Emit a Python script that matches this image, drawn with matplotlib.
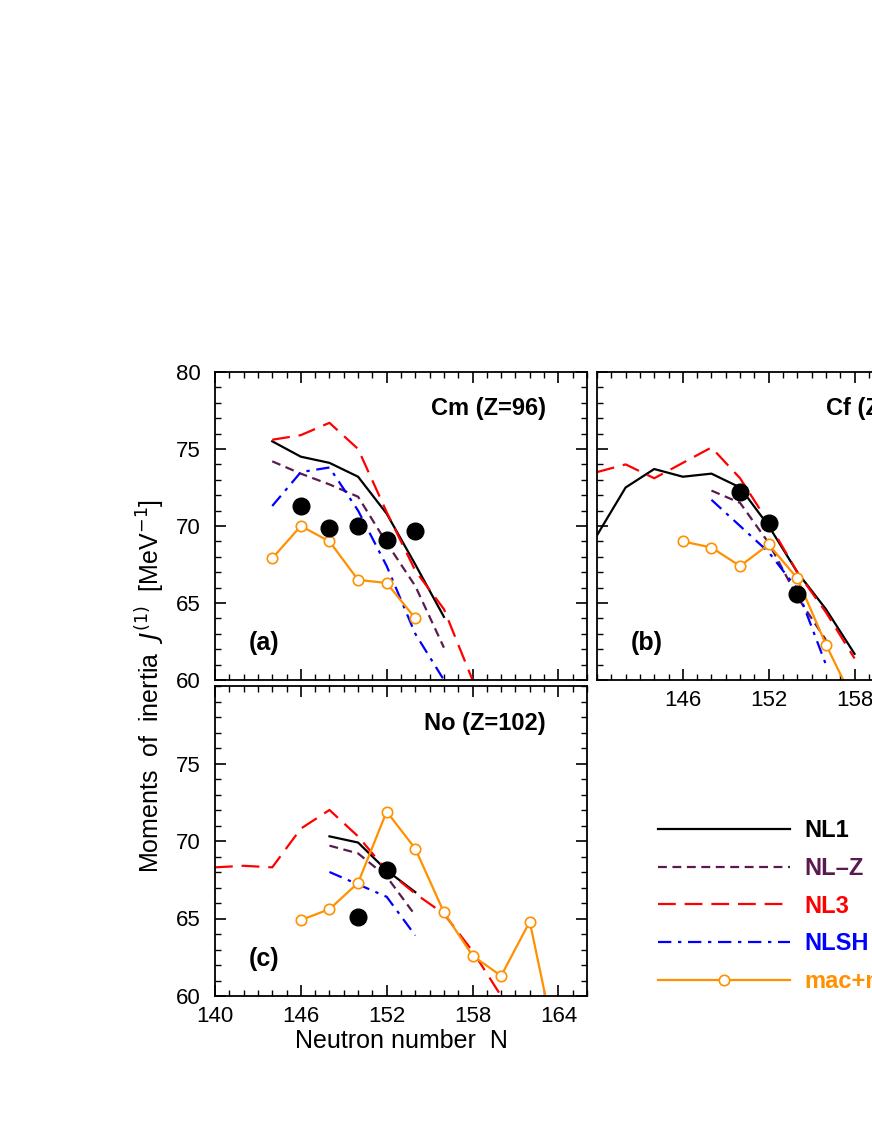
import matplotlib
matplotlib.use("Agg")
import matplotlib.pyplot as plt
from matplotlib.ticker import MultipleLocator

# ---- data ----
# Panel (a) Cm
a_nl1_N = [144,146,148,150,152,154,156]; a_nl1 = [75.5,74.5,74.1,73.2,70.8,67.5,64.1]
a_nlz_N = [144,146,148,150,152,154,156]; a_nlz = [74.2,73.4,72.7,71.9,68.9,66.1,62.1]
a_nl3_N = [144,146,148,150,152,154,156,158]; a_nl3 = [75.6,75.9,76.7,75.0,70.9,67.1,64.6,60.0]
a_nlsh_N = [144,146,148,150,152,154,156]; a_nlsh = [71.3,73.5,73.8,71.0,67.4,63.0,60.0]
a_exp_N = [146,148,150,152,154]; a_exp = [71.3,69.9,70.0,69.1,69.7]
a_mac_N = [144,146,148,150,152,154]; a_mac = [67.9,70.0,69.0,66.5,66.3,64.0]
# Panel (b) Cf
b_nl1_N = [140,142,144,146,148,150,152,154,156,158]; b_nl1 = [69.4,72.5,73.7,73.2,73.4,72.5,70.0,67.0,64.6,61.7]
b_nlz_N = [148,150,152,154,156]; b_nlz = [72.3,71.5,68.9,65.4,62.6]
b_nl3_N = [140,142,144,146,148,150,152,154,156,158]; b_nl3 = [73.5,74.0,73.1,74.1,75.1,73.1,70.2,67.0,64.4,61.4]
b_nlsh_N = [148,150,152,154,156]; b_nlsh = [71.7,70.0,68.3,65.9,61.0]
b_exp_N = [150,152,154]; b_exp = [72.2,70.2,65.6]
b_mac_N = [146,148,150,152,154,156,158]; b_mac = [69.0,68.6,67.4,68.8,66.6,62.3,58.5]
# Panel (c) No
c_nl1_N = [148,150,152,154]; c_nl1 = [70.3,69.9,68.1,66.7]
c_nlz_N = [148,150,152,154]; c_nlz = [69.7,69.2,67.7,65.2]
c_nl3_N = [140,142,144,146,148,150,152,154,156,158,160]; c_nl3 = [68.3,68.4,68.3,70.8,72.0,70.3,68.1,66.6,65.3,62.9,60.0]
c_nlsh_N = [148,150,152,154]; c_nlsh = [68.0,67.2,66.4,63.9]
c_exp_N = [150,152]; c_exp = [65.1,68.1]
c_mac_N = [146,148,150,152,154,156,158,160,162,164]; c_mac = [64.9,65.6,67.3,71.9,69.5,65.4,62.6,61.3,64.8,56.0]

panels = {
    "a": (a_nl1_N,a_nl1,a_nlz_N,a_nlz,a_nl3_N,a_nl3,a_nlsh_N,a_nlsh,a_exp_N,a_exp,a_mac_N,a_mac,"Cm (Z=96)"),
    "b": (b_nl1_N,b_nl1,b_nlz_N,b_nlz,b_nl3_N,b_nl3,b_nlsh_N,b_nlsh,b_exp_N,b_exp,b_mac_N,b_mac,"Cf (Z=98)"),
    "c": (c_nl1_N,c_nl1,c_nlz_N,c_nlz,c_nl3_N,c_nl3,c_nlsh_N,c_nlsh,c_exp_N,c_exp,c_mac_N,c_mac,"No (Z=102)"),
}
labels = ["NL1","NL\u2013Z","NL3","NLSH","mac+mic"]
colors = ["black","#5b1a4f","red","blue","#ff9000"]
styles = ["-",(0,(4,2.5)),(0,(8,4)),(0,(6,3,1.5,3)),"-"]

plt.rcParams["font.family"] = "Liberation Sans"
fig = plt.figure(figsize=(8.72,11.28), dpi=100)
W, H = 872, 1128
def pos(l,t,w,h): return [l/W, 1-(t+h)/H, w/W, h/H]
axes = {
    "a": fig.add_axes(pos(215,372,372,308)),
    "b": fig.add_axes(pos(597,372,372,308)),
    "c": fig.add_axes(pos(215,686,372,310)),
}
handles = None
for k, ax in axes.items():
    d = panels[k]
    hs = []
    for i in range(4):
        h, = ax.plot(d[2*i], d[2*i+1], color=colors[i], ls=styles[i], lw=1.6)
        hs.append(h)
    ax.plot(d[8], d[9], 'o', color='black', ms=12, zorder=5)
    h, = ax.plot(d[10], d[11], '-o', color=colors[4], mfc='white', mec=colors[4], ms=7.5, lw=1.6, mew=1.2)
    hs.append(h)
    handles = hs
    ax.set_xlim(140,166); ax.set_ylim(60,80)
    ax.xaxis.set_major_locator(MultipleLocator(6)); ax.xaxis.set_minor_locator(MultipleLocator(1))
    ax.yaxis.set_major_locator(MultipleLocator(5)); ax.yaxis.set_minor_locator(MultipleLocator(1))
    ax.tick_params(which='both', direction='in', top=True, right=True, labelsize=16)
    ax.tick_params(axis='y', pad=10)
    ax.tick_params(axis='x', pad=7)
    ax.tick_params(which='major', length=8, width=1.2)
    ax.tick_params(which='minor', length=4, width=1.0)
    for s in ax.spines.values(): s.set_linewidth(1.3)
    ax.text(0.89, 0.88, d[12], transform=ax.transAxes, ha='right', va='center',
            fontsize=17, fontweight='bold')
    ax.text(0.09, 0.12, f"({k})", transform=ax.transAxes, ha='left', va='center', fontsize=18, fontweight='bold')
    ax.set_xticks([146,152,158,164] if k=="b" else [140,146,152,158,164])

axes["a"].tick_params(labelbottom=False)
axes["b"].tick_params(labelleft=False)
axes["b"].set_xticks([146,152,158])
axes["c"].set_yticks([60,65,70,75])
axes["c"].set_xlabel("Neutron number  N", fontsize=18, labelpad=2)
fig.text(150/W, 1-686/H, r"Moments  of  inertia  $J^{(1)}$  [MeV$^{-1}$]", rotation=90,
         ha='center', va='center', fontsize=18)

leg = fig.legend(handles, labels, loc='upper left', bbox_to_anchor=(637/W, 1-798/H), frameon=False,
                 handlelength=5.6, labelspacing=0.62, handletextpad=0.6, prop={'weight':'bold','size':17})
for t, c in zip(leg.get_texts(), colors):
    t.set_color(c)
fig.savefig("out.png", dpi=100)
